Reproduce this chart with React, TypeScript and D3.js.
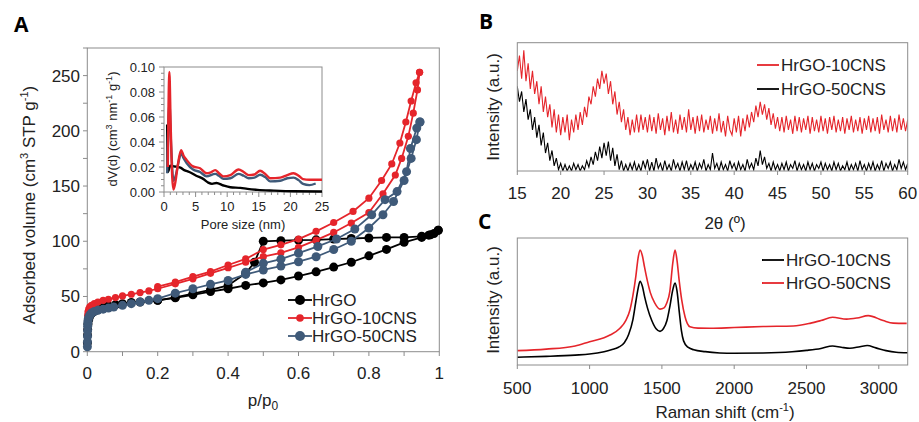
import React from 'react';
import * as d3 from 'd3';

type Pt = [number, number];

const RED = '#e5252b';
const BLUE = '#3f5a79';
const BLACK = '#000000';
const AXIS = '#8c8c8c';
const FONT = '"Liberation Sans", Arial, Helvetica, sans-serif';

// ---------- Panel A: N2 isotherms (p/p0, cm3 STP g-1) ----------
const hrgoAds: Pt[] = [
  [0.0003, 8], [0.0006, 15], [0.001, 20], [0.002, 25], [0.004, 29], [0.007, 32], [0.012, 34.5],
  [0.02, 36.5], [0.03, 38], [0.045, 40], [0.06, 41.5], [0.08, 42.5], [0.1, 43.5], [0.125, 44.5],
  [0.15, 45], [0.2, 46.5], [0.25, 48.8], [0.3, 51.5], [0.35, 54.5], [0.4, 57], [0.45, 60],
  [0.5, 62.3], [0.55, 65], [0.6, 68.5], [0.65, 72.3], [0.7, 76.6], [0.75, 81], [0.8, 86.8],
  [0.85, 92.6], [0.9, 99], [0.95, 103.5], [0.975, 105.8], [0.997, 110],
];
const hrgoDes: Pt[] = [
  [0.997, 110], [0.985, 107], [0.97, 105.5], [0.95, 104.5], [0.9, 103.5], [0.85, 103.5],
  [0.8, 103], [0.75, 102.5], [0.7, 102], [0.65, 101.3], [0.6, 101], [0.55, 100.5], [0.5, 100],
  [0.475, 81], [0.45, 71], [0.4, 60], [0.35, 56], [0.3, 52.5], [0.25, 49.2], [0.2, 46.5],
];
const cns10Ads: Pt[] = [
  [0.0003, 20], [0.0006, 28], [0.001, 33], [0.002, 36], [0.004, 38.5], [0.007, 40.5],
  [0.012, 42], [0.02, 43.5], [0.03, 45], [0.045, 46.5], [0.06, 47.5], [0.08, 49], [0.1, 50.5],
  [0.125, 52], [0.15, 53.5], [0.175, 55], [0.2, 57], [0.25, 61.5], [0.3, 66], [0.35, 71],
  [0.4, 76], [0.45, 81], [0.5, 86], [0.55, 89.5], [0.6, 94.5], [0.65, 101], [0.7, 108],
  [0.75, 116.5], [0.8, 126], [0.84, 143], [0.875, 160], [0.893, 175], [0.912, 195],
  [0.926, 216], [0.938, 237], [0.944, 253],
];
const cns10Des: Pt[] = [
  [0.944, 253], [0.934, 243.5], [0.92, 227], [0.905, 208], [0.888, 189], [0.865, 170],
  [0.836, 155], [0.8, 139], [0.755, 127], [0.7, 117], [0.65, 109], [0.6, 102], [0.55, 96.8],
  [0.5, 92.5], [0.45, 84], [0.4, 78.5], [0.35, 72.5], [0.3, 68], [0.25, 63], [0.2, 59],
];
const cns50Ads: Pt[] = [
  [0.0002, 4.5], [0.0004, 9], [0.0006, 14], [0.0008, 19], [0.001, 23], [0.0015, 26],
  [0.002, 28], [0.003, 30], [0.005, 32], [0.008, 33.5], [0.012, 35], [0.02, 36.5], [0.03, 37.5],
  [0.045, 38.5], [0.06, 39.5], [0.075, 40.5], [0.1, 42], [0.125, 43.5], [0.15, 45],
  [0.175, 46.5], [0.2, 48], [0.25, 53], [0.3, 57], [0.35, 61], [0.4, 64.5], [0.45, 70],
  [0.5, 74], [0.55, 77.5], [0.6, 81.5], [0.65, 86], [0.7, 92.5], [0.75, 100], [0.8, 112],
  [0.84, 124], [0.87, 136], [0.9, 155], [0.92, 175], [0.935, 192], [0.945, 208],
];
const cns50Des: Pt[] = [
  [0.945, 208], [0.936, 202.5], [0.918, 184], [0.907, 163], [0.88, 145], [0.846, 137.7],
  [0.808, 124], [0.76, 111], [0.708, 102], [0.655, 95.3], [0.6, 89.3], [0.55, 83.8],
  [0.5, 80], [0.45, 72],
];
const isoXTicks = [0, 0.2, 0.4, 0.6, 0.8, 1];
const isoXTickLabels = ['0', '0.2', '0.4', '0.6', '0.8', '1'];
const isoYTicks = [0, 50, 100, 150, 200, 250];

// ---------- Inset: pore size distribution ----------
const psd10: Pt[] = [
  [0.6, 0.02], [0.72, 0.07], [0.85, 0.096], [1.05, 0.055], [1.3, 0.012], [1.5, 0.002],
  [1.8, 0.008], [2.2, 0.022], [2.7, 0.0335], [3.1, 0.029], [3.6, 0.0255], [4.6, 0.0205],
  [5.7, 0.019], [6.75, 0.015], [7.3, 0.0155], [8.1, 0.0175], [8.7, 0.015], [9.4, 0.0125],
  [10.5, 0.0135], [11.8, 0.018], [12.6, 0.016], [13.4, 0.0135], [14.3, 0.014], [15.2, 0.017],
  [16, 0.0145], [16.8, 0.011], [18.4, 0.0115], [19.5, 0.0135], [20.5, 0.015], [21.3, 0.013],
  [22, 0.0103], [23, 0.0098], [25, 0.0098],
];
const psd50: Pt[] = [
  [0.5, 0.015], [0.85, 0.072], [1.1, 0.04], [1.5, 0.009], [1.9, 0.014], [2.3, 0.024],
  [2.7, 0.031], [3.1, 0.027], [3.6, 0.023], [4.6, 0.018], [5.7, 0.016], [6.75, 0.0125],
  [8.1, 0.0145], [8.7, 0.013], [9.4, 0.0105], [10.5, 0.011], [11.8, 0.0145], [12.6, 0.013],
  [13.4, 0.011], [14.3, 0.0115], [15.2, 0.0138], [16, 0.012], [16.8, 0.0085], [18.4, 0.009],
  [19.5, 0.011], [20.5, 0.0115], [21.3, 0.0095], [22, 0.0065], [23, 0.0055], [24, 0.0068],
];
const psdHrGO: Pt[] = [
  [0.5, 0.054], [0.6, 0.016], [1.0, 0.021], [1.6, 0.0205], [2.6, 0.0195], [3.2, 0.0175],
  [4, 0.016], [5.1, 0.013], [6.2, 0.0105], [7, 0.0075], [7.6, 0.0065], [8.3, 0.0072],
  [9.4, 0.0052], [10.5, 0.0038], [12.1, 0.0033], [13.2, 0.0025], [14.8, 0.0017],
  [17.4, 0.0011], [20.5, 0.0006], [25, 0.0004],
];
const insetXTicks = [0, 5, 10, 15, 20, 25];
const insetYTicks = [0, 0.02, 0.04, 0.06, 0.08, 0.1];

// ---------- Panel B: XRD (2θ from 15 in 0.25° steps, a.u.) ----------
const xrdStart = 15;
const xrdStep = 0.25;
const xrd10CNS = [
  78, 90, 72, 94, 70, 84, 64, 78, 60, 70, 52, 66, 46, 58, 42, 52, 34, 48, 30, 44, 28,
  42, 30, 44, 24, 40, 30, 44, 32, 46, 36, 50, 42, 58, 52, 66, 58, 72, 64, 78, 68,
  76, 60, 70, 52, 62, 44, 54, 38, 48, 32, 42, 28, 40, 30, 44, 30, 44, 32, 42, 30,
  44, 31, 42, 29, 45, 32, 41, 28, 43, 31, 46, 30, 40, 29, 44, 32, 42, 30, 48, 32,
  42, 29, 43, 31, 44, 30, 40, 32, 43, 29, 41, 31, 45, 30, 39, 27, 43, 32, 28, 41,
  30, 43, 27, 41, 31, 44, 34, 46, 38, 51, 42, 54, 44, 52, 40, 49, 36, 45, 33, 42,
  31, 42, 30, 43, 32, 40, 29, 43, 31, 42, 30, 41, 32, 43, 29, 42, 31, 40, 30, 43,
  31, 41, 29, 42, 32, 43, 30, 40, 31, 42, 29, 41, 32, 43, 30, 40, 31, 42, 29, 41,
  32, 43, 30, 41, 31, 42, 29, 44, 32, 40, 30, 43, 31, 41, 30, 44, 32, 41, 31, 40,
];
const xrd50CNS = [
  66, 54, 62, 46, 56, 40, 48, 32, 42, 26, 36, 20, 30, 14, 22, 8, 16, 4, 10, 1, 6,
  0, 5, 0, 4, 0, 6, 1, 5, 0, 4, 1, 8, 3, 11, 5, 15, 8, 19, 10, 22,
  12, 23, 8, 18, 4, 13, 1, 8, 0, 5, 0, 6, 1, 7, 0, 5, 0, 8, 2, 9,
  0, 7, 0, 10, 2, 6, 0, 8, 1, 5, 0, 9, 2, 6, 0, 7, 1, 8, 0, 5,
  1, 7, 0, 6, 2, 9, 0, 5, 1, 14, 2, 6, 0, 7, 1, 5, 0, 8, 2, 6,
  0, 7, 1, 5, 0, 9, 2, 6, 1, 10, 4, 16, 5, 11, 2, 6, 0, 7, 1, 5,
  0, 6, 1, 7, 0, 5, 2, 8, 0, 6, 1, 5, 0, 7, 1, 6, 0, 5, 2, 7,
  0, 6, 1, 5, 0, 7, 1, 6, 0, 4, 1, 7, 0, 5, 1, 6, 0, 8, 1, 5,
  0, 6, 1, 7, 0, 5, 1, 8, 0, 6, 2, 7, 0, 5, 1, 9, 2, 7, 1, 6,
];
const xrdTicks = [15, 20, 25, 30, 35, 40, 45, 50, 55, 60];

// ---------- Panel C: Raman (cm-1, a.u.) ----------
const raman10: Pt[] = [
  [500, 6.1], [700, 6.8], [900, 7.8], [1000, 8.6], [1100, 10.5], [1150, 12], [1200, 14],
  [1240, 17.5], [1270, 24], [1300, 36], [1320, 50], [1335, 60], [1349, 66], [1365, 62],
  [1380, 54], [1400, 45], [1430, 35], [1460, 28.5], [1487, 26.5], [1510, 28.5], [1535, 35],
  [1555, 46], [1575, 59], [1591, 64.5], [1605, 58], [1620, 42], [1635, 27], [1650, 19],
  [1680, 14], [1720, 12], [1800, 10.5], [1900, 9.5], [2000, 9.2], [2200, 9.4], [2400, 10.4],
  [2500, 11.5], [2600, 13], [2680, 15], [2740, 14], [2800, 13.2], [2870, 14.4], [2920, 15.3],
  [2980, 13.5], [3050, 11.3], [3120, 10], [3200, 9.6],
];
const raman50: Pt[] = [
  [500, 11.3], [700, 12.5], [900, 15], [1000, 18.3], [1100, 21.5], [1141, 23.6], [1210, 28.9],
  [1250, 35], [1279, 43.3], [1300, 55], [1320, 70], [1335, 84], [1349, 90.6], [1365, 86],
  [1380, 77], [1400, 66], [1420, 57], [1450, 49], [1487, 44], [1515, 45], [1533, 48.6],
  [1555, 58], [1575, 80], [1591, 90.6], [1605, 82], [1620, 66], [1637, 51.2], [1660, 38],
  [1694, 30.1], [1750, 29], [1833, 28.9], [2000, 29.5], [2200, 30.3], [2409, 30.7],
  [2524, 32.8], [2600, 35], [2680, 37.6], [2778, 36.1], [2850, 37], [2927, 38.9],
  [3030, 35], [3100, 33], [3193, 32.8],
];
const ramanTicks = [500, 1000, 1500, 2000, 2500, 3000];

function Frame({ x0, x1, y0, y1 }: { x0: number; x1: number; y0: number; y1: number }) {
  return <rect x={x0} y={y0} width={x1 - x0} height={y1 - y0} fill="none" stroke={AXIS} strokeWidth={1} />;
}

function Series({ data, color, r, line }: { data: Pt[]; color: string; r: number; line: d3.Line<Pt> }) {
  return (
    <g>
      <path d={line(data) || ''} fill="none" stroke={color} strokeWidth={1.8} />
      {data.map((d, i) => (
        <circle key={i} cx={(line.x() as any)(d)} cy={(line.y() as any)(d)} r={r} fill={color} />
      ))}
    </g>
  );
}

export default function App() {
  // Panel A scales
  const xA = d3.scaleLinear().domain([0, 1]).range([87.3, 439.3]);
  const yA = d3.scaleLinear().domain([0, 275]).range([351.7, 48]);
  const lineA = d3.line<Pt>().x((d) => xA(d[0])).y((d) => yA(d[1]));

  // Inset scales
  const xI = d3.scaleLinear().domain([0, 25]).range([164, 322]);
  const yI = d3.scaleLinear().domain([0, 0.1]).range([192, 67]);
  const lineI = d3.line<Pt>().x((d) => xI(d[0])).y((d) => yI(d[1])).curve(d3.curveMonotoneX);

  // Panel B
  const xB = d3.scaleLinear().domain([15, 60]).range([517.3, 907.7]);
  const yB = d3.scaleLinear().domain([0, 100]).range([171, 42.7]);
  const lineB = d3.line<number>().x((_, i) => xB(xrdStart + i * xrdStep)).y((d) => yB(d));

  // Panel C
  const xC = d3.scaleLinear().domain([500, 3200]).range([517.3, 907.7]);
  const yC = d3.scaleLinear().domain([0, 100]).range([365, 238]);
  const lineC = d3.line<Pt>().x((d) => xC(d[0])).y((d) => yC(d[1])).curve(d3.curveMonotoneX);

  const minorA = d3.range(0, 276, 25);
  const minorAX = d3.range(0, 1.001, 0.1);
  const minorIY = d3.range(0, 0.1001, 0.005);
  const minorIX = d3.range(0, 25.01, 1);

  return (
    <svg width={919} height={422} style={{ position: 'absolute', left: 0, top: 0, background: '#fff' }} fontFamily={FONT}>
      <rect x={0} y={0} width={919} height={422} fill="#fff" />
      {/* Panel labels */}
      <text x={14} y={32} fontSize={21} fontWeight="bold" fontFamily='"Open Sans", "Liberation Sans", sans-serif'>A</text>
      <text x={479} y={29} fontSize={21} fontWeight="bold" fontFamily='"Open Sans", "Liberation Sans", sans-serif'>B</text>
      <text x={478} y={229} fontSize={21} fontWeight="bold" fontFamily='"Open Sans", "Liberation Sans", sans-serif'>C</text>

      {/* ===== Panel A ===== */}
      <Frame x0={87.3} x1={439.3} y0={48} y1={351.7} />
      {minorA.map((v) => (
        <line key={'ya' + v} x1={83} x2={87.3} y1={yA(v)} y2={yA(v)} stroke={AXIS} />
      ))}
      {minorAX.map((v) => (
        <line key={'xa' + v} x1={xA(v)} x2={xA(v)} y1={351.7} y2={356} stroke={AXIS} />
      ))}
      {isoYTicks.map((v) => (
        <text key={'yl' + v} x={80} y={yA(v)} dy="0.35em" textAnchor="end" fontSize={17} fill="#222">{v}</text>
      ))}
      {isoXTicks.map((v, i) => (
        <text key={'xl' + v} x={xA(v)} y={379} textAnchor="middle" fontSize={17} fill="#222">{isoXTickLabels[i]}</text>
      ))}
      <text x={263} y={406} textAnchor="middle" fontSize={17} fill="#222">
        p/p<tspan fontSize={12} dy={4}>0</tspan>
      </text>
      <text transform="translate(35,205) rotate(-90)" textAnchor="middle" fontSize={17} fill="#222">
        Adsorbed volume (cm<tspan fontSize={11} dy={-7}>3</tspan><tspan dy={7}> STP g</tspan>
        <tspan fontSize={11} dy={-7}>-1</tspan><tspan dy={7}>)</tspan>
      </text>

      <Series data={hrgoAds} color={BLACK} r={4.5} line={lineA} />
      <Series data={hrgoDes} color={BLACK} r={4.5} line={lineA} />
      <Series data={cns10Ads} color={RED} r={3.6} line={lineA} />
      <Series data={cns10Des} color={RED} r={3.6} line={lineA} />
      <Series data={cns50Ads} color={BLUE} r={4.5} line={lineA} />
      <Series data={cns50Des} color={BLUE} r={4.5} line={lineA} />

      {/* Legend A */}
      {[
        { name: 'HrGO', color: BLACK, r: 5, y: 300 },
        { name: 'HrGO-10CNS', color: RED, r: 3.8, y: 318 },
        { name: 'HrGO-50CNS', color: BLUE, r: 5, y: 336 },
      ].map((l) => (
        <g key={l.name}>
          <line x1={288} x2={312} y1={l.y} y2={l.y} stroke={l.color} strokeWidth={1.8} />
          <circle cx={300} cy={l.y} r={l.r} fill={l.color} />
          <text x={312} y={l.y} dy="0.36em" fontSize={17} fill="#222">{l.name}</text>
        </g>
      ))}

      {/* ===== Inset ===== */}
      <rect x={164} y={67} width={158} height={125} fill="#fff" stroke={AXIS} />
      {minorIY.map((v, i) => (
        <line key={'iy' + i} x1={i % 4 === 0 ? 159 : 161} x2={164} y1={yI(v)} y2={yI(v)} stroke={AXIS} />
      ))}
      {minorIX.map((v, i) => (
        <line key={'ix' + i} x1={xI(v)} x2={xI(v)} y1={192} y2={i % 5 === 0 ? 197 : 195} stroke={AXIS} />
      ))}
      {insetYTicks.map((v) => (
        <text key={'iyl' + v} x={155} y={yI(v)} dy="0.35em" textAnchor="end" fontSize={13} fill="#222">{v.toFixed(2)}</text>
      ))}
      {insetXTicks.map((v) => (
        <text key={'ixl' + v} x={xI(v)} y={210.5} textAnchor="middle" fontSize={13} fill="#222">{v}</text>
      ))}
      <text x={243} y={228.5} textAnchor="middle" fontSize={13} fill="#222">Pore size (nm)</text>
      <text transform="translate(116.5,129) rotate(-90)" textAnchor="middle" fontSize={13} fill="#222">
        dV(d) (cm<tspan fontSize={9} dy={-5}>3</tspan><tspan dy={5}> nm</tspan>
        <tspan fontSize={9} dy={-5}>-1</tspan><tspan dy={5}> g</tspan>
        <tspan fontSize={9} dy={-5}>-1</tspan><tspan dy={5}>)</tspan>
      </text>
      <path d={lineI(psdHrGO) || ''} fill="none" stroke={BLACK} strokeWidth={2.4} />
      <path d={lineI(psd50) || ''} fill="none" stroke={BLUE} strokeWidth={2.4} />
      <path d={lineI(psd10) || ''} fill="none" stroke={RED} strokeWidth={2.4} />

      {/* ===== Panel B ===== */}
      <defs>
        <clipPath id="clipB">
          <rect x={517.3} y={42.7} width={390.4} height={128.3} />
        </clipPath>
      </defs>
      <g clipPath="url(#clipB)">
        <path d={lineB(xrd50CNS) || ''} fill="none" stroke={BLACK} strokeWidth={1.1} />
        <path d={lineB(xrd10CNS) || ''} fill="none" stroke={RED} strokeWidth={1.1} />
      </g>
      <Frame x0={517.3} x1={907.7} y0={42.7} y1={171} />
      {xrdTicks.map((v) => (
        <g key={'xb' + v}>
          <line x1={xB(v)} x2={xB(v)} y1={171} y2={175} stroke={AXIS} />
          <text x={xB(v)} y={199} textAnchor="middle" fontSize={17} fill="#222">{v}</text>
        </g>
      ))}
      <text x={725} y={229} textAnchor="middle" fontSize={17} fill="#222">2θ (º)</text>
      <text transform="translate(499,107) rotate(-90)" textAnchor="middle" fontSize={17} fill="#222">Intensity (a.u.)</text>
      <line x1={757} x2={779} y1={65} y2={65} stroke={RED} strokeWidth={1.8} />
      <text x={781} y={65} dy="0.36em" fontSize={17} fill="#222">HrGO-10CNS</text>
      <line x1={757} x2={779} y1={89} y2={89} stroke={BLACK} strokeWidth={1.8} />
      <text x={781} y={89} dy="0.36em" fontSize={17} fill="#222">HrGO-50CNS</text>

      {/* ===== Panel C ===== */}
      <path d={lineC(raman10) || ''} fill="none" stroke={BLACK} strokeWidth={1.6} />
      <path d={lineC(raman50) || ''} fill="none" stroke={RED} strokeWidth={1.6} />
      <Frame x0={517.3} x1={907.7} y0={238} y1={365} />
      {ramanTicks.map((v) => (
        <g key={'xc' + v}>
          <line x1={xC(v)} x2={xC(v)} y1={365} y2={369} stroke={AXIS} />
          <text x={xC(v)} y={394} textAnchor="middle" fontSize={17} fill="#222">{v}</text>
        </g>
      ))}
      <text x={725} y={418} textAnchor="middle" fontSize={17} fill="#222">
        Raman shift (cm<tspan fontSize={11} dy={-7}>-1</tspan><tspan dy={7}>)</tspan>
      </text>
      <text transform="translate(499,300) rotate(-90)" textAnchor="middle" fontSize={17} fill="#222">Intensity (a.u.)</text>
      <line x1={762} x2={784} y1={260} y2={260} stroke={BLACK} strokeWidth={1.8} />
      <text x={786} y={260} dy="0.36em" fontSize={17} fill="#222">HrGO-10CNS</text>
      <line x1={762} x2={784} y1={283} y2={283} stroke={RED} strokeWidth={1.8} />
      <text x={786} y={283} dy="0.36em" fontSize={17} fill="#222">HrGO-50CNS</text>
    </svg>
  );
}
